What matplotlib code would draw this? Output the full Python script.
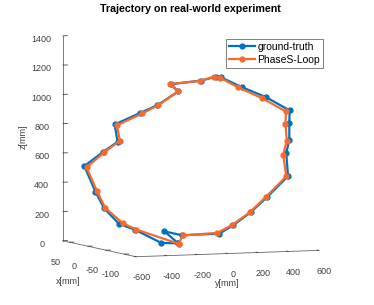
import matplotlib
matplotlib.use("Agg")
import matplotlib.pyplot as plt
import numpy as np

plt.rcParams['font.family'] = ['Liberation Sans', 'DejaVu Sans']
plt.rcParams['axes.unicode_minus'] = False

# ground-truth trajectory (closed loop)
gt_x = [-20, -8, -23, -55, -67, -82, -96, -114, -112, -115, -115, -115, -95, -74, -56, -52,
        -39, -13, -20, -2, 13, 35, 32, 44, 61, 51, 44, 31, 17, -5, -20]
gt_y = [-54, -116, -37, 130, 193, 273, 349, 441, 434, 447, 447, 449, 340, 232, 138, 114,
        49, -87, -55, -148, -226, -340, -328, -392, -477, -428, -387, -320, -249, -131, -54]
gt_z = [10, 88, 67, 89, 150, 245, 356, 503, 659, 750, 866, 952, 1037, 1097, 1158, 1159,
        1129, 1095, 1048, 948, 889, 803, 686, 614, 510, 339, 226, 125, 90, 9, 10]

# PhaseS-Loop estimate
ps_x = [-20, -24, -53, -66, -81, -95, -112, -110, -113, -112, -112, -91, -71, -55, -50,
        -39, -13, -20, -3, 11, 33, 30, 44, 59, 50, 43, 28, 16, -20]
ps_y = [-52, -34, 123, 187, 268, 344, 434, 419, 435, 429, 432, 322, 217, 134, 107,
        46, -91, -55, -144, -216, -331, -317, -387, -467, -419, -382, -305, -243, -52]
ps_z = [8, 66, 94, 151, 243, 357, 500, 646, 745, 860, 944, 1029, 1094, 1155, 1160,
        1127, 1096, 1048, 949, 887, 798, 694, 610, 501, 340, 229, 132, 92, 8]

x_ticks = [-100, -50, 0, 50]
y_ticks = [-600, -400, -200, 0, 200, 400, 600]
z_ticks = [0, 200, 400, 600, 800, 1000, 1200, 1400]

fig = plt.figure(figsize=(3.74, 3.05), dpi=100)
ax = fig.add_axes([0.0, 0.043, 1.0, 0.95], projection='3d', proj_type='ortho')

blue = '#0072BD'
orange = '#F8692E'
ax.plot(gt_x, gt_y, gt_z, '-o', color=blue, lw=1.6, ms=3.5, label='ground-truth')
ax.plot(ps_x, ps_y, ps_z, '-o', color=orange, lw=1.6, ms=3.5, label='PhaseS-Loop')

ax.set_xlim(68, -132)
ax.set_ylim(-600, 600)
ax.set_zlim(0, 1400)
ax.set_xticks(x_ticks)
ax.set_yticks(y_ticks)
ax.set_zticks(z_ticks)
ax.view_init(elev=5, azim=-21.75)
ax.set_box_aspect((1, 1, 1.045), zoom=1.16)

ax.zaxis.set_ticks_position('lower')
ax.zaxis.set_label_position('lower')

ax.grid(False)
for axis in (ax.xaxis, ax.yaxis, ax.zaxis):
    axis.pane.set_visible(False)
    axis.line.set_color('#666666')
    axis.line.set_linewidth(0.6)
    axis._axinfo['tick']['color'] = '#666666'
    axis._axinfo['tick']['linewidth'] = {True: 0.6, False: 0.5}
    axis._axinfo['tick']['inward_factor'] = 0.0
    axis._axinfo['tick']['outward_factor'] = 0.3
ax.tick_params(axis='both', labelsize=6.5, colors='#404040', pad=0)
ax.tick_params(axis='z', labelsize=6.5, colors='#404040', pad=1)

ax.set_zlabel('z[mm]', fontsize=6.5, color='#404040', labelpad=-4)
fig.text(68 / 374, 1 - 282 / 305, 'x[mm]', fontsize=6.5, color='#404040', ha='center', va='center')
fig.text(227 / 374, 1 - 284 / 305, 'y[mm]', fontsize=6.5, color='#404040', ha='center', va='center')

fig.text(0.51, 1 - 9 / 305, 'Trajectory on real-world experiment', fontsize=7.7,
         fontweight='bold', ha='center', va='center')
leg = fig.legend(loc='upper right', bbox_to_anchor=(323 / 374, 1 - 39 / 305), fontsize=7.5,
                 frameon=True, fancybox=False, edgecolor='#444444', handlelength=2.5,
                 borderpad=0.3, labelspacing=0.25, handletextpad=0.2, borderaxespad=0)
leg.get_frame().set_linewidth(0.6)

fig.savefig('out.png', dpi=100)
